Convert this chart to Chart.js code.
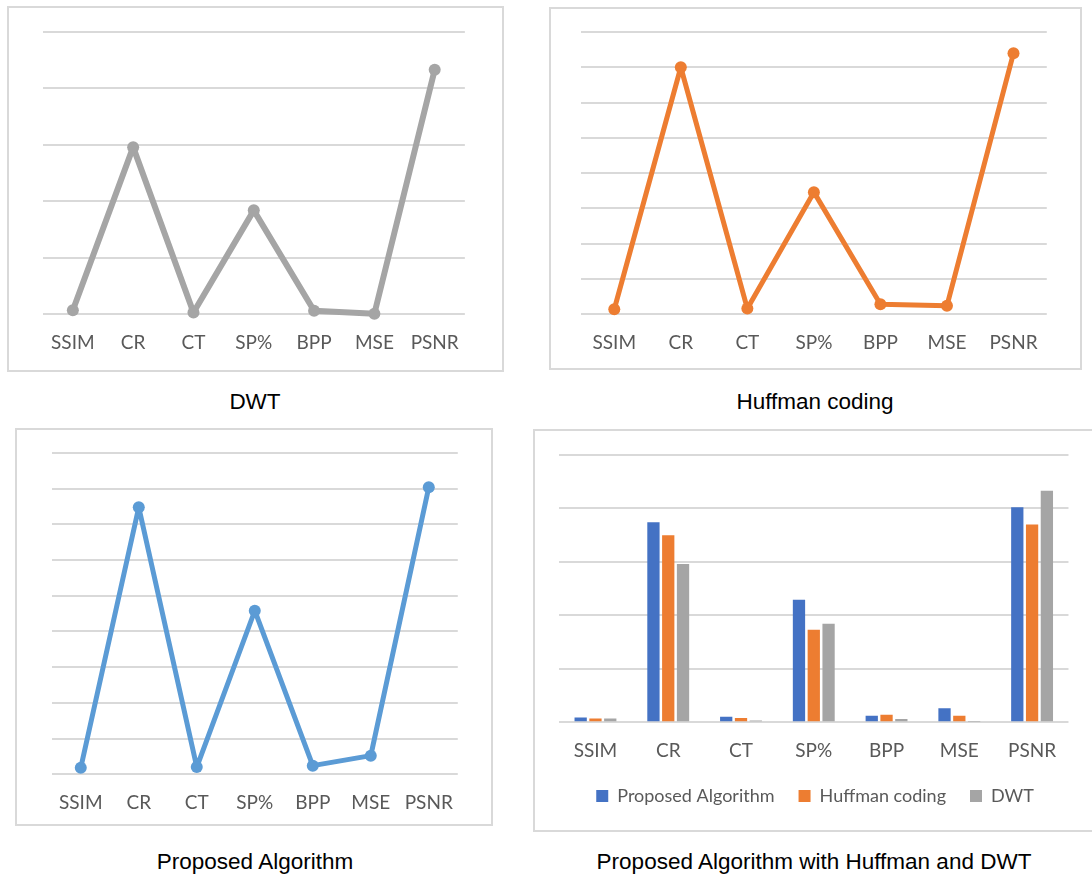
<!DOCTYPE html>
<html>
<head>
<meta charset="utf-8">
<script src="https://cdn.jsdelivr.net/npm/chart.js@4.4.0/dist/chart.umd.min.js"></script>
<style>
    body { margin: 0; background: #fff; width: 1092px; height: 877px; overflow: hidden; position: relative; }
    .box { position: absolute; border: 2px solid #d9d9d9; box-sizing: border-box; }
    .chart { position: absolute; }
    .caption { position: absolute; font-family: "Liberation Sans", Arial, sans-serif; font-size: 22.5px; color: #000; text-align: center; width: 500px; }
</style>
</head>
<body>
<div class="box" style="left:7px; top:6px; width:497px; height:366px;"></div>
<div class="box" style="left:549px; top:7px; width:533px; height:363px;"></div>
<div class="box" style="left:15px; top:428px; width:478px; height:398px;"></div>
<div class="box" style="left:533px; top:429px; width:570px; height:403px;"></div>

<div class="chart" style="left:34px; top:22px; width:442px; height:349px;"><canvas id="dwtChart"></canvas></div>
<div class="chart" style="left:575px; top:22px; width:480px; height:349px;"><canvas id="huffChart"></canvas></div>
<div class="chart" style="left:42px; top:443px; width:428px; height:388px;"><canvas id="propChart"></canvas></div>
<div class="chart" style="left:557px; top:445px; width:516px; height:386px;"><canvas id="barChart"></canvas></div>

<div class="caption" style="left:5px; top:389px;">DWT</div>
<div class="caption" style="left:565px; top:389px;">Huffman coding</div>
<div class="caption" style="left:5px; top:849px;">Proposed Algorithm</div>
<div class="caption" style="left:564px; top:849px;">Proposed Algorithm with Huffman and DWT</div>

<script>
// Data
const metrics = ['SSIM', 'CR', 'CT', 'SP%', 'BPP', 'MSE', 'PSNR'];
const proposedValues = [0.9, 37.4, 1.0, 22.9, 1.2, 2.6, 40.2];
const huffmanValues = [0.7, 35.0, 0.8, 17.3, 1.4, 1.2, 37.0];
const dwtValues = [0.7, 29.6, 0.3, 18.4, 0.6, 0.1, 43.3];

const colors = {
    blueLine: '#5b9bd5',
    blueBar: '#4472c4',
    orange: '#ed7d31',
    gray: '#a5a5a5',
    grid: '#d9d9d9',
    text: '#595959'
};

const tickFont = { family: 'Lato, "Open Sans", sans-serif', size: 19 };

function lineChart(id, values, color, max, step, width) {
    new Chart(document.getElementById(id), {
        type: 'line',
        data: {
            labels: metrics,
            datasets: [{
                data: values,
                borderColor: color,
                backgroundColor: color,
                borderWidth: width,
                borderJoinStyle: 'round',
                borderCapStyle: 'round',
                pointRadius: 6,
                pointBackgroundColor: color,
                pointBorderWidth: 0,
                tension: 0,
                clip: false
            }]
        },
        options: {
            responsive: true,
            maintainAspectRatio: false,
            animation: false,
            layout: { padding: { top: 10 } },
            plugins: { legend: { display: false }, tooltip: { enabled: false } },
            scales: {
                x: {
                    offset: true,
                    grid: { display: false, drawTicks: false },
                    border: { display: false },
                    ticks: { color: colors.text, font: tickFont, padding: 17, maxRotation: 0 }
                },
                y: {
                    min: 0,
                    max: max,
                    grid: { color: colors.grid, lineWidth: 2, drawTicks: false },
                    border: { display: false },
                    ticks: { display: false, stepSize: step }
                }
            }
        }
    });
}

lineChart('dwtChart', dwtValues, colors.gray, 50, 10, 6);
lineChart('huffChart', huffmanValues, colors.orange, 40, 5, 5);
lineChart('propChart', proposedValues, colors.blueLine, 45, 5, 5);

// pull the legend up closer to the category labels
const legendShift = {
    id: 'legendShift',
    afterLayout(chart) {
        chart.legend.top -= 16;
        chart.legend.bottom -= 16;
    }
};

// Comparison bar chart
new Chart(document.getElementById('barChart'), {
    type: 'bar',
    data: {
        labels: metrics,
        datasets: [
            { label: 'Proposed Algorithm', data: proposedValues, backgroundColor: colors.blueBar },
            { label: 'Huffman coding', data: huffmanValues, backgroundColor: colors.orange },
            { label: 'DWT', data: dwtValues, backgroundColor: colors.gray }
        ]
    },
    options: {
        responsive: true,
        maintainAspectRatio: false,
        animation: false,
        layout: { padding: { top: 10 } },
        datasets: { bar: { categoryPercentage: 0.61, barPercentage: 0.83 } },
        plugins: {
            tooltip: { enabled: false },
            legend: {
                position: 'bottom',
                labels: {
                    color: colors.text,
                    font: { family: 'Lato, "Open Sans", sans-serif', size: 18 },
                    boxWidth: 12,
                    boxHeight: 12,
                    padding: 24
                }
            }
        },
        scales: {
            x: {
                grid: { display: false, drawTicks: false },
                border: { display: false },
                ticks: { color: colors.text, font: tickFont, padding: 17, maxRotation: 0 }
            },
            y: {
                min: 0,
                max: 50,
                grid: { color: colors.grid, lineWidth: 2, drawTicks: false },
                border: { display: false },
                ticks: { display: false, stepSize: 10 }
            }
        }
    },
    plugins: [legendShift]
});
</script>
</body>
</html>
